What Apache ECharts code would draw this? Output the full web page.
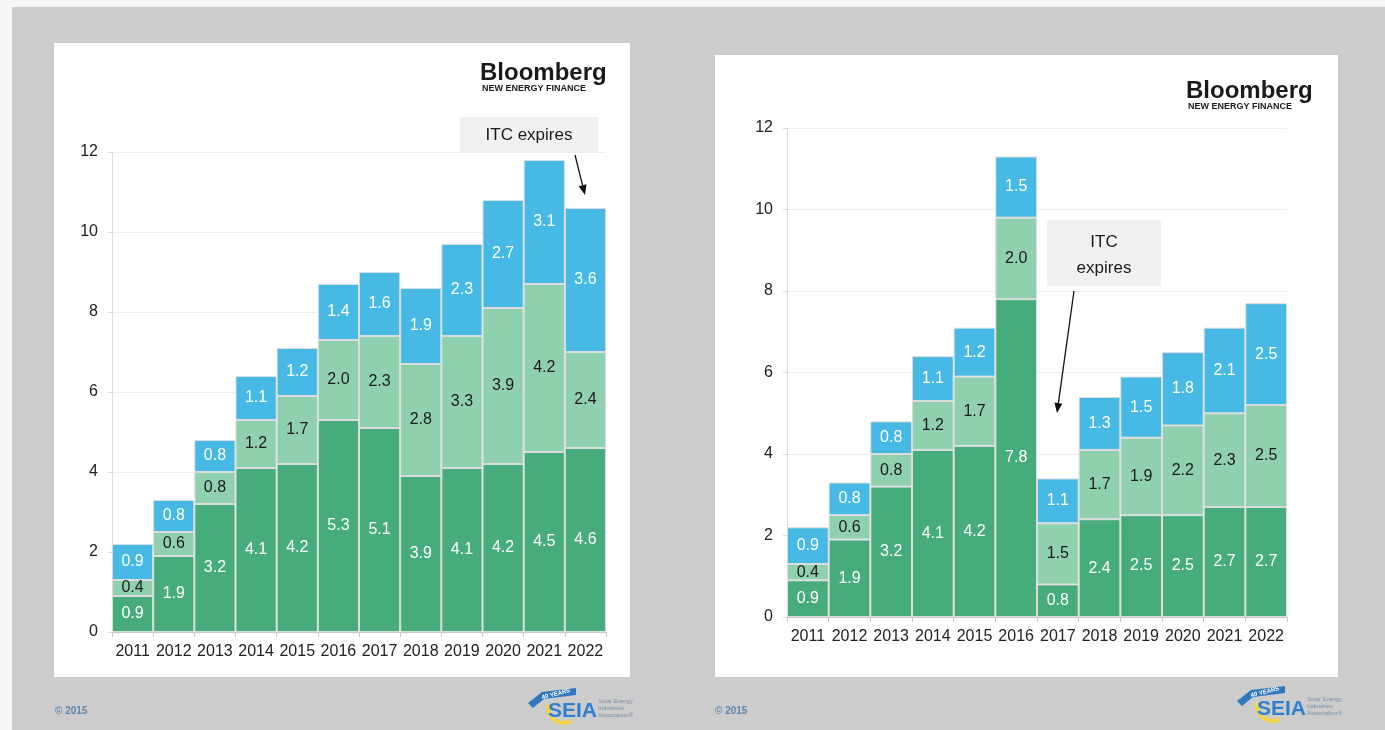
<!DOCTYPE html>
<html>
<head>
<meta charset="utf-8">
<title>US solar installations</title>
<script src="https://cdn.jsdelivr.net/npm/echarts@6/dist/echarts.min.js"></script>
<style>
  html, body { margin: 0; padding: 0; background: #f8f6f6; }
  #chart { width: 1385px; height: 730px; }
</style>
</head>
<body>
<div id="chart"></div>
<script>
// Years on both charts
const years = ['2011','2012','2013','2014','2015','2016','2017','2018','2019','2020','2021','2022'];
const yTicks = [0, 2, 4, 6, 8, 10, 12];

// Scenario A: ITC expires after 2021
const aUtility     = [0.9, 1.9, 3.2, 4.1, 4.2, 5.3, 5.1, 3.9, 4.1, 4.2, 4.5, 4.6];
const aNonRes      = [0.4, 0.6, 0.8, 1.2, 1.7, 2.0, 2.3, 2.8, 3.3, 3.9, 4.2, 2.4];
const aResidential = [0.9, 0.8, 0.8, 1.1, 1.2, 1.4, 1.6, 1.9, 2.3, 2.7, 3.1, 3.6];

// Scenario B: ITC expires after 2016
const bUtility     = [0.9, 1.9, 3.2, 4.1, 4.2, 7.8, 0.8, 2.4, 2.5, 2.5, 2.7, 2.7];
const bNonRes      = [0.4, 0.6, 0.8, 1.2, 1.7, 2.0, 1.5, 1.7, 1.9, 2.2, 2.3, 2.5];
const bResidential = [0.9, 0.8, 0.8, 1.1, 1.2, 1.5, 1.1, 1.3, 1.5, 1.8, 2.1, 2.5];

const COLORS = { utility: '#46ac7c', nonres: '#8fd0ae', res: '#46bae4' };
const FONT = '"Liberation Sans", Arial, Helvetica, sans-serif';

const chart = echarts.init(document.getElementById('chart'));

function segment(name, data, color, labelColor, gridIdx) {
  return {
    name: name,
    type: 'bar',
    stack: 'total' + gridIdx,
    xAxisIndex: gridIdx,
    yAxisIndex: gridIdx,
    data: data,
    barWidth: '100%',
    barCategoryGap: 0,
    itemStyle: { color: color, borderColor: '#dcdcdc', borderWidth: 1 },
    label: {
      show: true,
      position: 'inside',
      color: labelColor,
      fontFamily: FONT,
      fontSize: 16,
      formatter: p => p.value.toFixed(1)
    },
    emphasis: { disabled: true },
    silent: true
  };
}

function xAxisFor(gridIdx) {
  return {
    type: 'category',
    gridIndex: gridIdx,
    data: years,
    axisLine: { show: true, lineStyle: { color: '#c9c9c9', width: 1 } },
    axisTick: { show: true, alignWithLabel: false, length: 5, lineStyle: { color: '#c9c9c9' } },
    axisLabel: { interval: 0, color: '#222', fontFamily: FONT, fontSize: 16, margin: 12 },
    splitLine: { show: false }
  };
}

function yAxisFor(gridIdx) {
  return {
    type: 'value',
    gridIndex: gridIdx,
    min: yTicks[0],
    max: yTicks[yTicks.length - 1],
    interval: yTicks[1] - yTicks[0],
    axisLine: { show: true, lineStyle: { color: '#dadada', width: 1 } },
    axisTick: { show: true, length: 4, lineStyle: { color: '#dadada' } },
    axisLabel: { color: '#222', fontFamily: FONT, fontSize: 16, margin: 14 },
    splitLine: { show: true, lineStyle: { color: '#eeeeee', width: 1 } }
  };
}

// Arrow (shaft + head) as graphic elements
function arrow(x1, y1, x2, y2) {
  const ang = Math.atan2(y2 - y1, x2 - x1);
  const len = 10, half = 4;
  const bx = x2 - len * Math.cos(ang), by = y2 - len * Math.sin(ang);
  const px = -Math.sin(ang) * half, py = Math.cos(ang) * half;
  return [
    { type: 'line', z: 50, shape: { x1: x1, y1: y1, x2: bx, y2: by }, style: { stroke: '#111', lineWidth: 1.3 } },
    { type: 'polygon', z: 50, shape: { points: [[x2, y2], [bx + px, by + py], [bx - px, by - py]] }, style: { fill: '#111' } }
  ];
}

function text(x, y, str, font, fill, align, base, rot) {
  const el = {
    type: 'text', z: 52,
    style: {
      x: x, y: y, text: str, font: font, fill: fill,
      textAlign: align || 'left', align: align || 'left',
      textVerticalAlign: base || 'middle', verticalAlign: base || 'middle'
    }
  };
  if (rot) {
    el.style.x = 0; el.style.y = 0;
    el.x = x; el.y = y; el.rotation = rot;
  }
  return el;
}

function bloomberg(x, y) {
  return [
    text(x, y - 1, 'Bloomberg', 'bold 24px ' + FONT, '#1a1a1a', 'left', 'middle'),
    text(x + 2, y + 15, 'NEW ENERGY FINANCE', 'bold 9px ' + FONT, '#1a1a1a', 'left', 'middle')
  ];
}

function seia(x, y) {
  return [
    { type: 'arc', z: 50, shape: { cx: x + 36, cy: y + 20, r: 16, startAngle: Math.PI * 0.35, endAngle: Math.PI * 1.05 },
      style: { stroke: '#f2d34a', lineWidth: 4, fill: null } },
    { type: 'polygon', z: 51, shape: { points: [[x + 0, y + 16], [x + 14, y + 5], [x + 48, y + 1], [x + 48, y + 8], [x + 16, y + 12], [x + 5, y + 21]] },
      style: { fill: '#2f78c0' } },
    text(x + 28, y + 7, '40 YEARS', 'bold 6px ' + FONT, '#ffffff', 'center', 'middle', 0.25),
    text(x + 20, y + 24, 'SEIA', 'bold 21px ' + FONT, '#2f7fcf', 'left', 'middle'),
    text(x + 70, y + 14, 'Solar Energy', '6px ' + FONT, '#7d8fa3', 'left', 'middle'),
    text(x + 70, y + 21, 'Industries', '6px ' + FONT, '#7d8fa3', 'left', 'middle'),
    text(x + 70, y + 28, 'Association®', '6px ' + FONT, '#7d8fa3', 'left', 'middle')
  ];
}

const graphics = [
  // page backdrop and the two white panels
  { type: 'rect', z: -100, shape: { x: 12, y: 7, width: 1373, height: 723 }, style: { fill: '#cccccc' } },
  { type: 'rect', z: -90, shape: { x: 54, y: 43, width: 576, height: 634 }, style: { fill: '#ffffff' } },
  { type: 'rect', z: -90, shape: { x: 715, y: 55, width: 623, height: 622 }, style: { fill: '#ffffff' } },

  // ITC annotation, left chart
  { type: 'rect', z: 49, shape: { x: 460, y: 117, width: 138, height: 35 }, style: { fill: '#f1f1f1' } },
  text(529, 135, 'ITC expires', '17px ' + FONT, '#1a1a1a', 'center', 'middle'),
  ...arrow(575, 155, 585, 195),

  // ITC annotation, right chart
  { type: 'rect', z: 49, shape: { x: 1047, y: 220, width: 114, height: 66 }, style: { fill: '#f1f1f1' } },
  text(1104, 242, 'ITC', '17px ' + FONT, '#1a1a1a', 'center', 'middle'),
  text(1104, 268, 'expires', '17px ' + FONT, '#1a1a1a', 'center', 'middle'),
  ...arrow(1074, 291, 1057, 413),

  ...bloomberg(480, 74),
  ...bloomberg(1186, 92),

  text(55, 711, '© 2015', 'bold 10px ' + FONT, '#5f85ad', 'left', 'middle'),
  text(715, 711, '© 2015', 'bold 10px ' + FONT, '#5f85ad', 'left', 'middle'),

  ...seia(528, 687),
  ...seia(1237, 685)
];

chart.setOption({
  animation: false,
  backgroundColor: 'transparent',
  textStyle: { fontFamily: FONT },
  grid: [
    { left: 112, top: 152, width: 494, height: 480, containLabel: false },
    { left: 787, top: 128, width: 500, height: 489, containLabel: false }
  ],
  xAxis: [xAxisFor(0), xAxisFor(1)],
  yAxis: [yAxisFor(0), yAxisFor(1)],
  series: [
    segment('Utility-scale', aUtility, COLORS.utility, '#ffffff', 0),
    segment('Non-residential', aNonRes, COLORS.nonres, '#1a1a1a', 0),
    segment('Residential', aResidential, COLORS.res, '#ffffff', 0),
    segment('Utility-scale', bUtility, COLORS.utility, '#ffffff', 1),
    segment('Non-residential', bNonRes, COLORS.nonres, '#1a1a1a', 1),
    segment('Residential', bResidential, COLORS.res, '#ffffff', 1)
  ],
  graphic: graphics
});
</script>
</body>
</html>
